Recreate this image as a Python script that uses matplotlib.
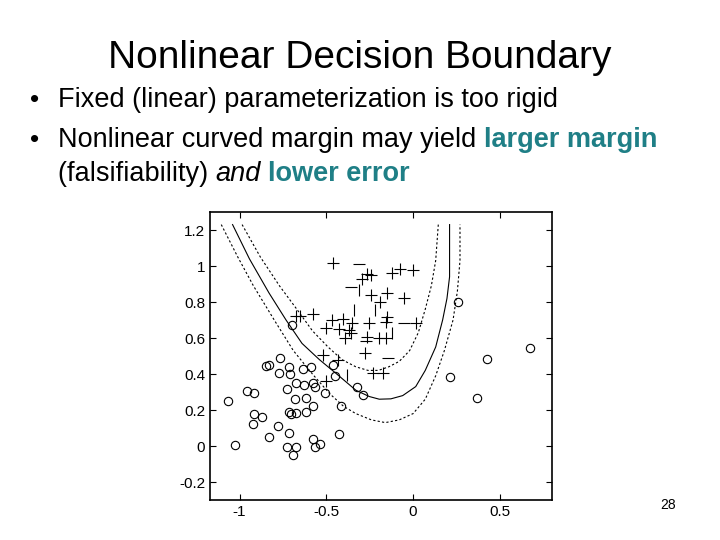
import matplotlib
matplotlib.use('Agg')
import matplotlib.pyplot as plt

plt.rcParams['font.family'] = ['Liberation Sans', 'DejaVu Sans']

# decision boundary and margins
solid_x = [-1.04, -0.943, -0.83, -0.732, -0.64, -0.54, -0.44, -0.33, -0.253, -0.195, -0.128,
           -0.06, 0.015, 0.07, 0.13, 0.17, 0.195, 0.21, 0.21]
solid_y = [1.23, 1.04, 0.85, 0.70, 0.57, 0.48, 0.40, 0.31, 0.275, 0.26, 0.262,
           0.28, 0.33, 0.42, 0.55, 0.70, 0.82, 0.94, 1.23]
inner_x = [-0.985, -0.88, -0.77, -0.67, -0.58, -0.49, -0.41, -0.33, -0.26, -0.2, -0.14,
           -0.08, -0.02, 0.03, 0.07, 0.105, 0.13, 0.145]
inner_y = [1.23, 1.05, 0.89, 0.76, 0.64, 0.55, 0.48, 0.44, 0.42, 0.42, 0.44,
           0.47, 0.53, 0.63, 0.76, 0.89, 1.03, 1.23]
outer_x = [-1.105, -1.01, -0.92, -0.8, -0.69, -0.58, -0.48, -0.4, -0.33, -0.24, -0.16,
           -0.08, 0.0, 0.07, 0.13, 0.18, 0.23, 0.255, 0.27, 0.27]
outer_y = [1.23, 1.05, 0.89, 0.70, 0.53, 0.40, 0.29, 0.22, 0.18, 0.145, 0.13,
           0.145, 0.18, 0.26, 0.39, 0.53, 0.70, 0.86, 1.03, 1.23]

circ_x = [-1.067, -1.025, -0.958, -0.914, -0.914, -0.920, -0.870, -0.828, -0.847, -0.828,
          -0.764, -0.774, -0.713, -0.709, -0.728, -0.674, -0.678, -0.626, -0.632, -0.617,
          -0.588, -0.575, -0.563, -0.617, -0.579, -0.674, -0.713, -0.703, -0.780, -0.716,
          -0.728, -0.693, -0.674, -0.579, -0.565, -0.536, -0.506, -0.425, -0.416, -0.448,
          -0.464, -0.326, -0.291, -0.699, 0.211, 0.257, 0.370, 0.427, 0.676]
circ_y = [0.252, 0.006, 0.307, 0.293, 0.178, 0.122, 0.159, 0.048, 0.446, 0.450,
          0.487, 0.404, 0.441, 0.400, 0.317, 0.348, 0.261, 0.339, 0.426, 0.265,
          0.441, 0.348, 0.330, 0.191, 0.222, 0.181, 0.191, 0.178, 0.111, 0.074,
          -0.007, -0.050, -0.007, 0.037, -0.004, 0.011, 0.296, 0.067, 0.222, 0.389,
          0.450, 0.330, 0.283, 0.672, 0.381, 0.802, 0.269, 0.485, 0.546]

plus_x = [-0.464, -0.268, -0.295, -0.245, -0.123, -0.073, 0.0, -0.054, -0.153, -0.245,
          -0.192, -0.153, -0.467, -0.402, -0.352, -0.257, -0.429, -0.368, -0.502, -0.575,
          -0.651, -0.674, 0.015, -0.356, -0.268, -0.276, -0.521, -0.433, -0.502, -0.230,
          -0.176, -0.391, -0.157, -0.195, -0.157]
plus_y = [1.015, 0.956, 0.926, 0.948, 0.959, 0.981, 0.978, 0.820, 0.852, 0.839,
          0.802, 0.719, 0.700, 0.704, 0.681, 0.681, 0.648, 0.644, 0.654, 0.733,
          0.722, 0.722, 0.681, 0.630, 0.607, 0.515, 0.506, 0.478, 0.363, 0.404,
          0.404, 0.598, 0.598, 0.598, 0.691]
minus_x = [-0.314, -0.358, -0.052, -0.144, -0.272]
minus_y = [1.011, 0.881, 0.681, 0.487, 0.585]
bar_x = [-0.310, -0.339, -0.218, -0.123, -0.383]
bar_y = [0.867, 0.756, 0.756, 0.626, 0.394]

teal = '#1f7f86'

fig = plt.figure(figsize=(7.2, 5.4), dpi=100)
fig.text(0.5, 1 - 58 / 540, 'Nonlinear Decision Boundary', ha='center', va='center', fontsize=28)


def line(x, y, parts):
    fig.canvas.draw()
    r = fig.canvas.get_renderer()
    for s, c in parts:
        t = fig.text(x / 720, 1 - y / 540, s, color=c, fontsize=19.5, va='center',
                     fontweight='bold' if c == teal else 'normal',
                     fontstyle='italic' if s == 'and' else 'normal')
        bb = t.get_window_extent(r)
        x += bb.width


fig.text(30 / 720, 1 - 100 / 540, '•', fontsize=19, va='center')
fig.text(30 / 720, 1 - 140 / 540, '•', fontsize=19, va='center')
line(58, 100, [('Fixed (linear) parameterization is too rigid', 'black')])
line(58, 140, [('Nonlinear curved margin may yield ', 'black'), ('larger margin', teal)])
line(58, 174, [('(falsifiability) ', 'black'), ('and', 'black'), (' ', 'black'), ('lower error', teal)])
fig.text(668 / 720, 1 - 505 / 540, '28', fontsize=10, ha='center', va='center')

ax = fig.add_axes([210 / 720, 40 / 540, 342 / 720, 288 / 540])
ax.plot(solid_x, solid_y, 'k-', lw=0.8)
ax.plot(inner_x, inner_y, 'k', ls=(0, (2, 2)), lw=0.8)
ax.plot(outer_x, outer_y, 'k', ls=(0, (2, 2)), lw=0.8)
ax.plot(circ_x, circ_y, 'o', mfc='none', mec='k', ms=6, mew=0.8)
ax.plot(plus_x, plus_y, '+', color='k', ms=8, mew=0.8)
ax.plot(minus_x, minus_y, '_', color='k', ms=8, mew=0.8)
ax.plot(bar_x, bar_y, '|', color='k', ms=8, mew=0.8)
ax.set_xlim(-1.17, 0.80)
ax.set_ylim(-0.3, 1.3)
ax.set_xticks([-1, -0.5, 0, 0.5])
ax.set_xticklabels(['-1', '-0.5', '0', '0.5'])
ax.set_yticks([-0.2, 0, 0.2, 0.4, 0.6, 0.8, 1, 1.2])
ax.set_yticklabels(['-0.2', '0', '0.2', '0.4', '0.6', '0.8', '1', '1.2'])
ax.tick_params(direction='in', top=True, right=True, labelsize=11, length=4)
for s in ax.spines.values():
    s.set_linewidth(1.2)

fig.savefig('out.png', dpi=100)
